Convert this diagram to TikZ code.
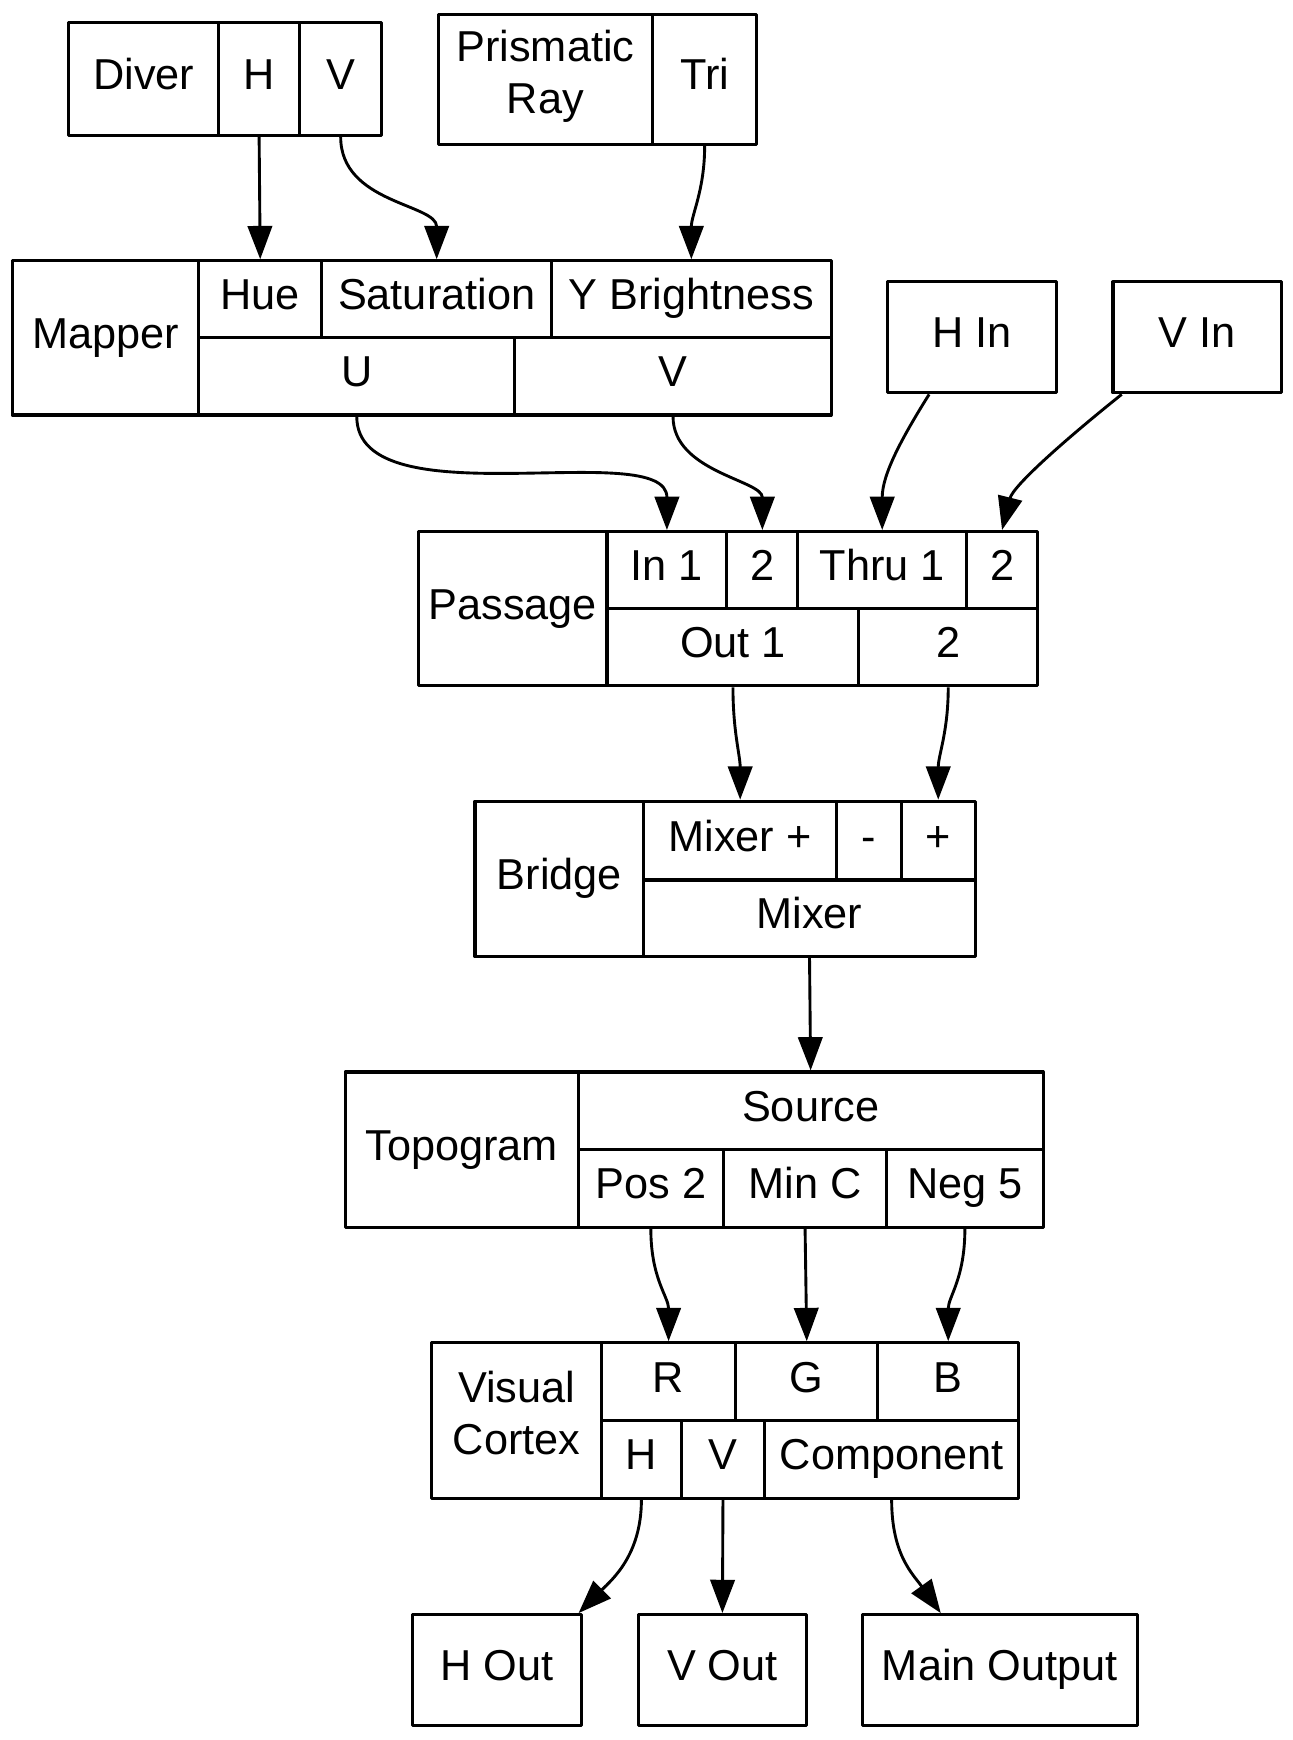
\documentclass[tikz,border=0pt]{standalone}
\usepackage{fontspec}
\setmainfont{Liberation Sans}
\usetikzlibrary{arrows.meta}
\begin{document}
\begin{tikzpicture}[x=1pt,y=-1pt,line join=round,font=\fontsize{39}{47}\selectfont,
	cell/.style={draw,line width=2.8pt,inner sep=0pt,align=center,execute at begin node=\strut},
	link/.style={line width=2.6pt,-{Triangle[length=30pt,width=22pt]}}]
	\useasboundingbox (0,0) rectangle (1165,1568);
	% record cells: name/left/top/right/bottom/text
	\foreach \n/\xa/\ya/\xb/\yb/\t in {
		diver/62/20/197/122/Diver, dH/197/20/270/122/H, dV/270/20/344/122/V,
		prism/395/13/588/130/{Prismatic\\Ray}, tri/588/13/682/130/Tri,
		mapper/11/235/179/374/Mapper, hue/179/235/290/304/Hue, sat/290/235/497/304/Saturation,
		ybr/497/235/749/304/Y Brightness, mU/179/304/464/374/U, mV/464/304/749/374/V,
		hin/800/254/952/354/H In, vin/1003/254/1155/354/V In,
		passage/377/479/547/618/Passage, in1/547/479/655/548/In 1, in2/655/479/719/548/2,
		thru1/719/479/871/548/Thru 1, thru2/871/479/935/548/2,
		out1/547/548/774/618/Out 1, out2/774/548/935/618/2,
		bridge/428/722/580/862/Bridge, mixp/580/722/754/793/Mixer +, minus/754/722/812/793/-,
		plus/812/722/879/793/+, mixer/580/793/879/862/Mixer,
		topo/311/966/521/1106/Topogram, source/521/966/940/1036/Source,
		pos/521/1036/652/1106/Pos 2, minc/652/1036/799/1106/Min C, neg/799/1036/940/1106/Neg 5,
		visual/389/1210/542/1350/{Visual\\Cortex}, vr/542/1210/663/1280/R, vg/663/1210/791/1280/G,
		vb/791/1210/918/1280/B, vh/542/1280/614/1350/H, vv/614/1280/689/1350/V,
		comp/689/1280/918/1350/Component,
		hout/372/1455/524/1555/H Out, vout/575/1455/727/1555/V Out, mout/777/1455/1025/1555/Main Output}
	\node[cell,minimum width={(\xb-\xa)*1pt},minimum height={(\yb-\ya)*1pt}]
		(\n) at ({(\xa+\xb)/2},{(\ya+\yb)/2}) {\t};
	% connections
	\draw[link] (dH.south) -- (hue.north);
	\draw[link] (dV.south) .. controls +(0,60) and +(0,-50) .. (sat.north);
	\draw[link] (tri.south) .. controls +(0,40) and +(0,-40) .. (ybr.north);
	\draw[link] (mU.south) .. controls +(0,95) and +(0,-85) .. (in1.north);
	\draw[link] (mV.south) .. controls +(0,50) and +(0,-45) .. (in2.north);
	\draw[link] (hin.-127) .. controls +(-25,40) and +(0,-50) .. (thru1.north);
	\draw[link] (vin.-143) .. controls +(-50,40) and +(10,-40) .. (thru2.north);
	\draw[link] (out1.south) .. controls +(0,40) and +(0,-40) .. (mixp.north);
	\draw[link] (out2.south) .. controls +(0,40) and +(0,-40) .. (plus.north);
	\draw[link] (mixer.south) -- (source.north);
	\draw[link] (pos.south) .. controls +(0,45) and +(0,-40) .. (vr.north);
	\draw[link] (minc.south) -- (vg.north);
	\draw[link] (neg.south) .. controls +(0,45) and +(0,-40) .. (vb.north);
	\draw[link] (vh.south) .. controls +(0,50) and +(30,-30) .. (hout.35);
	\draw[link] (vv.south) -- (vout.north);
	\draw[link] (comp.south) .. controls +(0,50) and +(-25,-35) .. (mout.136);
\end{tikzpicture}
\end{document}
